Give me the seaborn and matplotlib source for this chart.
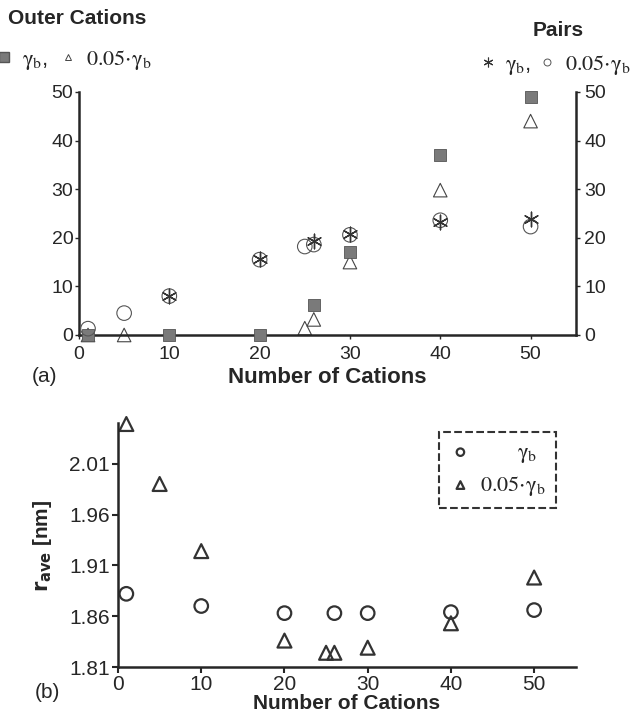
import matplotlib
matplotlib.use("Agg")
import matplotlib.pyplot as plt
import seaborn as sns
from matplotlib.lines import Line2D

# --- DADOS ---
# (a) Outer cations
outer_gb_x = [1, 10, 20, 26, 30, 40, 50]
outer_gb_y = [0, 0, 0, 6.2, 17, 37, 49]
outer_005_x = [1, 5, 25, 26, 30, 40, 50]
outer_005_y = [0, 0, 1.4, 3.2, 15, 29.8, 44]

# (a) Pairs
pairs_gb_x = [10, 20, 26, 30, 40, 50]
pairs_gb_y = [8.1, 15.7, 19.4, 20.8, 23.2, 23.8]
pairs_005_x = [1, 5, 10, 20, 25, 26, 30, 40, 50]
pairs_005_y = [1.3, 4.5, 8.0, 15.5, 18.2, 18.6, 20.6, 23.6, 22.3]

# (b) r_ave
rave_x = [1, 10, 20, 26, 30, 40, 50]
rave_gb = [1.882, 1.870, 1.863, 1.863, 1.863, 1.864, 1.866]
rave_005_x = [1, 5, 10, 20, 25, 26, 30, 40, 50]
rave_005 = [2.049, 1.990, 1.924, 1.836, 1.824, 1.824, 1.829, 1.853, 1.898]

yticks_a = [0, 10, 20, 30, 40, 50]
xticks = [0, 10, 20, 30, 40, 50]
yticks_b = [1.81, 1.86, 1.91, 1.96, 2.01]

lbl_gb = r"$\mathrm{\gamma}_{\mathrm{b}}$"
lbl_005 = r"$\mathrm{0.05{\cdot}\gamma}_{\mathrm{b}}$"

sns.set_style("white")
plt.rcParams["font.family"] = ["Liberation Sans", "DejaVu Sans"]
plt.rcParams["mathtext.fontset"] = "stix"

fig = plt.figure(figsize=(6.39, 7.15), dpi=100)

# --- PAINEL (a) ---
ax_a = fig.add_axes([0.1236, 0.5315, 0.7774, 0.3399])
ax_r = ax_a.twinx()

sns.scatterplot(x=outer_gb_x, y=outer_gb_y, ax=ax_a, marker="s", s=75,
                color="#7a7a7a", edgecolor="#555555", linewidth=0.6, clip_on=False, zorder=3)
sns.scatterplot(x=outer_005_x, y=outer_005_y, ax=ax_a, marker="^", s=95,
                facecolor="none", edgecolor="#444444", linewidth=0.8, clip_on=False, zorder=2)
sns.scatterplot(x=pairs_005_x, y=pairs_005_y, ax=ax_r, marker="o", s=110,
                facecolor="none", edgecolor="#555555", linewidth=0.8, clip_on=False, zorder=2)
sns.scatterplot(x=pairs_gb_x, y=pairs_gb_y, ax=ax_r, marker=(6, 2, 0), s=110,
                color="#333333", linewidth=1.0, clip_on=False, zorder=3)

for ax in (ax_a, ax_r):
    ax.set_xlim(0, 55)
    ax.set_ylim(0, 50)
    ax.set_yticks(yticks_a)
    ax.spines["top"].set_visible(False)
    for sp in ax.spines.values():
        sp.set_linewidth(1.8)
ax_a.spines["right"].set_visible(False)
ax_r.spines["left"].set_visible(False)
ax_r.spines["bottom"].set_visible(False)
ax_a.set_xticks(xticks)
ax_a.tick_params(axis="y", labelsize=14, length=3, width=1, direction="out", pad=1)
ax_a.tick_params(axis="x", labelsize=14, length=3, width=1, direction="out", pad=5)
ax_r.tick_params(axis="y", labelsize=14, length=3, width=1, direction="out", pad=3)
ax_a.tick_params(left=True, bottom=True)
ax_r.tick_params(right=True)
ax_a.set_xlabel("Number of Cations", fontsize=16, fontweight="bold")
ax_a.xaxis.label.set_va("center")
ax_a.xaxis.set_label_coords(0.5, -0.173)
ax_a.set_ylabel("")
ax_r.set_ylabel("")

h_sq = Line2D([], [], ls="none", marker="s", ms=7, color="#7a7a7a", mec="#555555")
h_tr = Line2D([], [], ls="none", marker="^", ms=5, mfc="none", mec="#444444", mew=0.7)
h_st = Line2D([], [], ls="none", marker=(6, 2, 0), ms=7, color="#333333", mew=0.8)
h_ci = Line2D([], [], ls="none", marker="o", ms=5, mfc="none", mec="#555555", mew=0.7)

fig.legend([h_sq, h_tr], [lbl_gb + ",", lbl_005], ncol=2, frameon=False,
           loc="center left", bbox_to_anchor=(-0.028, 1 - 60 / 715), fontsize=16,
           handletextpad=0.2, columnspacing=0.3, handlelength=1.2, borderaxespad=0)
fig.legend([h_st, h_ci], [lbl_gb + ",", lbl_005], ncol=2, frameon=False,
           loc="center right", bbox_to_anchor=(1.0, 1 - 65 / 715), fontsize=16,
           handletextpad=0.2, columnspacing=0.1, handlelength=1.2, borderaxespad=0)

fig.text(8 / 639, 1 - 19 / 715, "Outer Cations", fontsize=15, fontweight="bold", va="center")
fig.text(558 / 639, 1 - 30 / 715, "Pairs", fontsize=15, fontweight="bold", va="center", ha="center")
fig.text(32 / 639, 1 - 376 / 715, "(a)", fontsize=15, va="center")

# --- PAINEL (b) ---
ax_b = fig.add_axes([0.1847, 0.0671, 0.7163, 0.3413])
sns.scatterplot(x=rave_x, y=rave_gb, ax=ax_b, marker="o", s=95, facecolor="none",
                edgecolor="#333333", linewidth=1.6, clip_on=False, label="      " + lbl_gb)
sns.scatterplot(x=rave_005_x, y=rave_005, ax=ax_b, marker="^", s=100, facecolor="none",
                edgecolor="#333333", linewidth=1.6, clip_on=False, label=lbl_005)
ax_b.set_xlim(0, 55)
ax_b.set_ylim(1.81, 2.05)
ax_b.set_xticks(xticks)
ax_b.set_yticks(yticks_b)
ax_b.set_yticklabels([f"{v:.2f}" for v in yticks_b])
ax_b.spines["top"].set_visible(False)
ax_b.spines["right"].set_visible(False)
for sp in ax_b.spines.values():
    sp.set_linewidth(1.8)
ax_b.tick_params(axis="both", labelsize=15, length=4, width=1.5, direction="out", pad=2)
ax_b.tick_params(axis="x", pad=2)
ax_b.tick_params(left=True, bottom=True)
ax_b.set_xlabel("Number of Cations", fontsize=15, fontweight="bold")
ax_b.xaxis.label.set_va("center")
ax_b.xaxis.set_label_coords(0.5, -0.150)
ax_b.set_ylabel(r"$\mathbf{r_{ave}}$ [nm]", fontsize=15, fontweight="bold",
                math_fontfamily="dejavusans")
ax_b.yaxis.label.set_va("center")
ax_b.yaxis.set_label_coords(-0.164, 0.496)

leg = ax_b.legend(loc="upper right", bbox_to_anchor=(556 / 639, 1 - 432 / 715),
                  bbox_transform=fig.transFigure, fontsize=16, frameon=True, fancybox=False,
                  markerscale=0.55, handletextpad=0.4, borderpad=0.45, labelspacing=0.4,
                  handlelength=1.0, borderaxespad=0)
fr = leg.get_frame()
fr.set_linestyle("--")
fr.set_edgecolor("black")
fr.set_linewidth(1.5)

fig.text(35 / 639, 1 - 693 / 715, "(b)", fontsize=15, va="center")

plt.savefig("out.png", dpi=100)
plt.close()
